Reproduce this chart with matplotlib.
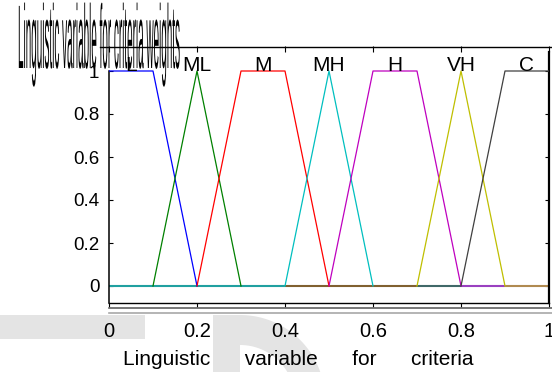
import numpy as np
import matplotlib
matplotlib.use('Agg')
import matplotlib.pyplot as plt
from matplotlib.patheffects import AbstractPathEffect
from matplotlib.transforms import Affine2D
from matplotlib.patches import Rectangle, Polygon
from matplotlib.lines import Line2D

# ---------------- data ----------------
mf_names = ['L', 'ML', 'M', 'MH', 'H', 'VH', 'C']
mf_x = [[0.0, 0.1, 0.2],
        [0.1, 0.2, 0.3],
        [0.2, 0.3, 0.4, 0.5],
        [0.4, 0.5, 0.6],
        [0.5, 0.6, 0.7, 0.8],
        [0.7, 0.8, 0.9],
        [0.8, 0.9, 1.0]]
mf_y = [[1, 1, 0],
        [0, 1, 0],
        [0, 1, 1, 0],
        [0, 1, 0],
        [0, 1, 1, 0],
        [0, 1, 0],
        [0, 1, 1]]
mf_colors = ['#0000ff', '#008000', '#ff0000', '#00bfbf', '#bf00bf', '#bfbf00', '#404040']
zero_edges = [0.0, 0.4, 0.7, 0.8, 0.9, 1.0]
zero_colors = ['#20a0a0', '#806030', '#406868', '#9a40c0', '#b08a50']
x_ticks = [0, 0.2, 0.4, 0.6, 0.8, 1]
x_tick_labels = ['0', '0.2', '0.4', '0.6', '0.8', '1']
y_ticks = [0, 0.2, 0.4, 0.6, 0.8, 1]
y_tick_labels = ['0', '0.2', '0.4', '0.6', '0.8', '1']
title_text = 'Linguistic variable for criteria weights'
xlabel_text = 'Linguistic      variable      for      criteria'

# ---------------- helpers ----------------
W, H = 552, 372
plt.rcParams['font.family'] = ['Liberation Sans', 'DejaVu Sans']


def fx(px):
    return px / W


def fy(py):
    return 1 - py / H


class Stretch(AbstractPathEffect):
    """Scale glyph paths about the text anchor (tall, narrow title)."""

    def __init__(self, sx, sy):
        super().__init__()
        self.sx, self.sy = sx, sy

    def draw_path(self, renderer, gc, tpath, affine, rgbFace=None):
        ax_, ay_ = affine.transform((0, 0))
        t = affine + Affine2D().translate(-ax_, -ay_).scale(self.sx, self.sy).translate(ax_, ay_)
        renderer.draw_path(gc, tpath, t, rgbFace)


fig = plt.figure(figsize=(W / 100, H / 100), dpi=100, facecolor='white')

# watermark (light grey shapes behind everything)
wm = '#e4e4e4'
fig.add_artist(Rectangle((fx(0), fy(339)), fx(145), (339 - 315) / H, color=wm,
                         transform=fig.transFigure, zorder=-2, lw=0))
fig.add_artist(Rectangle((fx(213), fy(372)), (240 - 213) / W, (372 - 315) / H, color=wm,
                         transform=fig.transFigure, zorder=-2, lw=0))
t = np.linspace(0, np.pi / 2, 60)
cx, cy, ro, ri = 240, 400, 85, 55
outer = [(fx(cx + ro * np.sin(a)), fy(cy - ro * np.cos(a))) for a in t]
inner = [(fx(cx + ri * np.sin(a)), fy(cy - ri * np.cos(a))) for a in t[::-1]]
fig.add_artist(Polygon(outer + inner, closed=True, color=wm, lw=0,
                       transform=fig.transFigure, zorder=-2))

# axes
ax_top, ax_bot = 46, 303
ax = fig.add_axes([fx(109), fy(ax_bot), (549 - 109) / W, (ax_bot - ax_top) / H])
ax.set_zorder(0)
y0px, y1px = 286, 71
ppu = y0px - y1px
ylo = (y0px - ax_bot) / ppu
yhi = (y0px - ax_top) / ppu
ax.set_xlim(0, 1)
ax.set_ylim(ylo, yhi)

for i, c in enumerate(zero_colors):
    ax.plot([zero_edges[i], zero_edges[i + 1]], [0, 0], color=c, lw=1.5,
            solid_capstyle='butt', zorder=2)

for name, xs, ys, c in zip(mf_names, mf_x, mf_y, mf_colors):
    ax.plot(xs, ys, color=c, lw=0.9, zorder=3)
    plateau = [x for x, y in zip(xs, ys) if y == 1]
    ax.text(np.mean(plateau), 1.0, name, ha='center', va='baseline',
            fontsize=15, color='black', zorder=4, clip_on=False)

ax.set_xticks(x_ticks, x_tick_labels, fontsize=14.5)
ax.set_yticks(y_ticks, y_tick_labels, fontsize=13.5)
ax.tick_params(axis='y', direction='in', length=3, width=0.8, left=True, right=True, pad=7)
ax.tick_params(axis='x', direction='out', length=3, width=0.8, bottom=True, top=False, pad=11)

sec = ax.secondary_xaxis('top')
sec.set_xticks(x_ticks, [''] * len(x_ticks))
sec.tick_params(direction='in', length=4, width=0.8)
sec.spines['top'].set_visible(False)

ax.spines['top'].set_visible(False)
ax.spines['left'].set_bounds(ylo, 1.0)
ax.spines['left'].set_linewidth(1.1)
ax.spines['right'].set_bounds(ylo, (y0px - 52) / ppu)
ax.spines['right'].set_linewidth(1.6)
ax.spines['bottom'].set_linewidth(1.0)

# lines around the frame
fig.add_artist(Line2D([fx(100), fx(552)], [fy(46.5), fy(46.5)], color='black', lw=1.0,
                      transform=fig.transFigure, zorder=6))
fig.add_artist(Line2D([fx(109), fx(552)], [fy(308), fy(308)], color='#606060', lw=1.2,
                      transform=fig.transFigure, zorder=1))
fig.add_artist(Line2D([fx(109), fx(552)], [fy(312.5), fy(312.5)], color='#a8a8a8', lw=1.2,
                      transform=fig.transFigure, zorder=1))

# x label
ax.set_xlabel(xlabel_text, fontsize=15, ha='left', va='baseline')
ax.xaxis.set_label_coords((123 - 109) / 440, (ax_bot - 365) / (ax_bot - ax_top))

# title: tall and narrow
fig.text(fx(18), fy(68), title_text, fontsize=10, ha='left', va='baseline',
         color='black', zorder=5, path_effects=[Stretch(0.714, 6.5)])

fig.savefig('out.png', dpi=100, facecolor='white')
